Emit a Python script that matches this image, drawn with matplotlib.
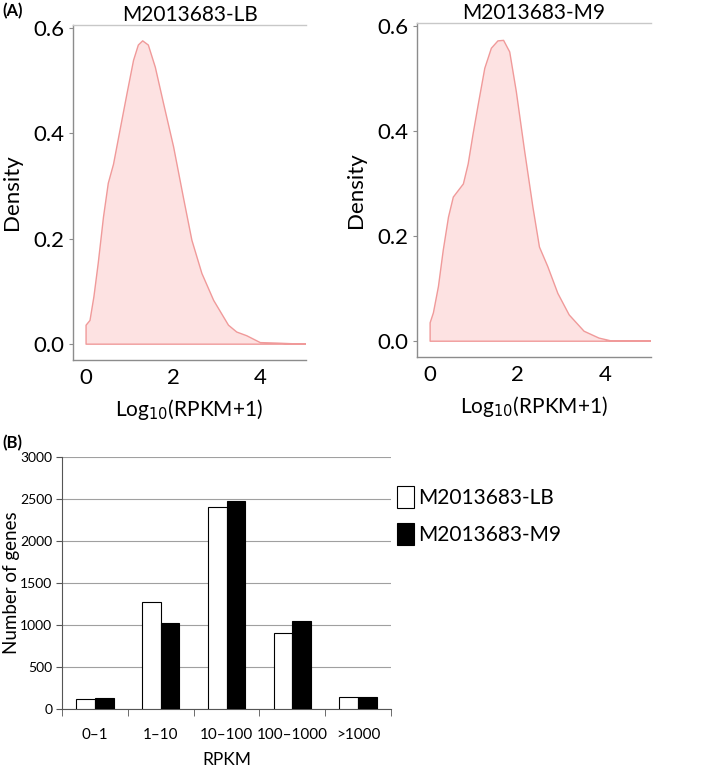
import numpy as np
import matplotlib
matplotlib.use("Agg")
import matplotlib.pyplot as plt
from matplotlib.patches import Patch

plt.rcParams['font.family'] = ['Lato', 'DejaVu Sans']

# ---- Panel A data (density curves) ----
lb_x = [0.0, 0.0, 0.09, 0.18, 0.28, 0.40, 0.51, 0.63, 0.78, 0.94, 1.09, 1.20, 1.30, 1.43,
        1.59, 1.78, 2.01, 2.24, 2.43, 2.66, 2.93, 3.27, 3.46, 3.69, 4.0, 4.39, 4.69, 5.07]
lb_y = [0.0, 0.036, 0.045, 0.09, 0.154, 0.241, 0.305, 0.341, 0.406, 0.475, 0.538, 0.567,
        0.575, 0.567, 0.525, 0.456, 0.374, 0.276, 0.197, 0.134, 0.083, 0.036, 0.023, 0.016,
        0.003, 0.002, 0.001, 0.0]
m9_x = [0.0, 0.0, 0.075, 0.19, 0.30, 0.42, 0.53, 0.64, 0.76, 0.87, 0.98, 1.10, 1.25, 1.40,
        1.55, 1.68, 1.82, 1.97, 2.16, 2.35, 2.5, 2.69, 2.92, 3.18, 3.52, 3.86, 4.17, 4.47,
        5.07]
m9_y = [0.0, 0.035, 0.054, 0.104, 0.173, 0.236, 0.274, 0.286, 0.299, 0.337, 0.393, 0.45,
        0.519, 0.557, 0.571, 0.572, 0.55, 0.475, 0.362, 0.255, 0.179, 0.142, 0.091, 0.05,
        0.019, 0.006, 0.0, 0.001, 0.001]
density_titles = ["M2013683-LB", "M2013683-M9"]

# ---- Panel B data ----
categories = ["0\u20131", "1\u201310", "10\u2013100", "100\u20131000", ">1000"]
lb_counts = [119, 1274, 2409, 905, 139]
m9_counts = [131, 1028, 2480, 1044, 143]
series_names = ["M2013683-LB", "M2013683-M9"]

fig = plt.figure(figsize=(7.09, 7.68), dpi=100)
W, H = 709.0, 768.0

def px_axes(x0, y0, x1, y1):
    return fig.add_axes([x0 / W, 1 - y1 / H, (x1 - x0) / W, (y1 - y0) / H])

gray = '#8c8c8c'
fill_c = '#fde2e2'
edge_c = '#f09a9a'

dens_boxes = [(73, 25, 306, 360), (417, 23, 651, 357)]
for (xs, ys), title, box in zip([(lb_x, lb_y), (m9_x, m9_y)], density_titles, dens_boxes):
    ax = px_axes(*box)
    px = list(xs) + [xs[-1]]
    py = list(ys) + [0.0]
    ax.fill(px, py, facecolor=fill_c, edgecolor=edge_c, linewidth=1.0, closed=True,
            joinstyle='round')
    ax.set_xlim(-0.3, 5.05)
    ax.set_ylim(-0.03, 0.605)
    ax.set_xticks([0, 2, 4])
    ax.set_yticks([0.0, 0.2, 0.4, 0.6])
    ax.set_yticklabels(['0.0', '0.2', '0.4', '0.6'])
    ax.spines['right'].set_visible(False)
    for s in ['left', 'bottom', 'top']:
        ax.spines[s].set_color(gray)
        ax.spines[s].set_linewidth(1.0)
    ax.spines['top'].set_color('#c8c8c8')
    ax.tick_params(axis='y', length=3, color=gray, labelsize=16, pad=3)
    ax.tick_params(axis='x', length=0, labelsize=16, pad=6)
    ax.set_ylabel('Density', fontsize=16, labelpad=8)
    ax.set_xlabel(r'Log$_{10}$(RPKM+1)', fontsize=15, labelpad=6)
    ax.set_title(title, fontsize=15, pad=2)

fig.text(2 / W, 1 - 11 / H, '(A)', fontsize=12, fontweight='bold', va='center', ha='left')
fig.text(2 / W, 1 - 443 / H, '(B)', fontsize=12, fontweight='bold', va='center', ha='left')

# ---- Panel B ----
axb = px_axes(62, 457, 391, 709)
idx = np.arange(len(categories))
bw = 0.284
axb.bar(idx - bw / 2, lb_counts, bw, facecolor='white', edgecolor='black', linewidth=0.8,
        label=series_names[0], zorder=3)
axb.bar(idx + bw / 2, m9_counts, bw, facecolor='black', edgecolor='black', linewidth=0.8,
        label=series_names[1], zorder=3)
axb.set_xlim(-0.5, len(categories) - 0.5)
axb.set_ylim(0, 3000)
axb.set_yticks(np.arange(0, 3001, 500))
axb.yaxis.grid(True, color='#a0a0a0', linewidth=0.8, zorder=0)
axb.set_axisbelow(True)
axb.set_xticks(idx)
axb.set_xticklabels(categories)
axb.set_xticks(np.arange(-0.5, len(categories)), minor=True)
axb.tick_params(axis='x', which='major', length=0, labelsize=11, pad=14)
axb.tick_params(axis='x', which='minor', length=5, color='#555555', direction='out')
axb.tick_params(axis='y', length=4, color='#555555', labelsize=10, pad=3)
for s in ['top', 'right']:
    axb.spines[s].set_visible(False)
axb.spines['left'].set_color('#555555')
axb.spines['bottom'].set_color('#555555')
axb.set_ylabel('Number of genes', fontsize=13.5)
axb.yaxis.set_label_coords(-42 / 329, 0.5)
axb.set_xlabel('RPKM', fontsize=12.5)
axb.xaxis.set_label_coords(0.5, -43 / 252)

handles = [Patch(facecolor='white', edgecolor='black', linewidth=0.8),
           Patch(facecolor='black', edgecolor='black', linewidth=0.8)]
fig.legend(handles, series_names, loc='upper left', bbox_to_anchor=(397 / W, 1 - 486 / H),
           frameon=False, fontsize=15, handlelength=0.8, handleheight=1.25,
           handletextpad=0.2, labelspacing=0.72, borderaxespad=0, borderpad=0)

fig.savefig('out.png', dpi=100)
